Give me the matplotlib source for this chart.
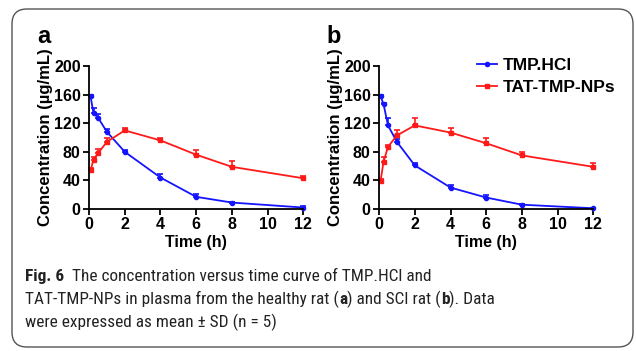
import numpy as np
import matplotlib
matplotlib.use('Agg')
from matplotlib import pyplot as plt
from matplotlib.patches import FancyBboxPatch
from matplotlib.lines import Line2D

# sampling times (h)
t = [0.083, 0.25, 0.5, 1, 2, 4, 6, 8, 12]

# panel a - healthy rat
a_hcl = [158, 134, 128, 108, 80, 44, 17, 9, 2]
a_hcl_sd = [2, 7, 5, 4, 3, 5, 4, 1, 2]
a_np = [54, 69, 78, 94, 110, 96, 76, 59, 43]
a_np_sd = [3, 4, 6, 6, 4, 3, 6, 8, 3]

# panel b - SCI rat
b_hcl = [158, 147, 117, 94, 61, 30, 16, 6, 1]
b_hcl_sd = [2, 2, 10, 4, 3, 4, 3, 1, 1]
b_np = [39, 66, 87, 103, 117, 107, 92, 75, 59]
b_np_sd = [3, 7, 3, 8, 11, 6, 8, 5, 5]

series_names = ['TMP.HCl', 'TAT-TMP-NPs']
xticks = [0, 2, 4, 6, 8, 10, 12]
yticks = [0, 40, 80, 120, 160, 200]

plt.rcParams['font.family'] = 'Liberation Sans'
plt.rcParams['font.weight'] = 'bold'

fig = plt.figure(figsize=(6.36, 3.51), dpi=100)

# rounded frame around the whole figure
frame = FancyBboxPatch((0.12, 0.04), 6.21, 3.38,
                       boxstyle='round,pad=0,rounding_size=0.15',
                       transform=fig.dpi_scale_trans, fill=False,
                       edgecolor='#555555', linewidth=1.0)
fig.patches.append(frame)

blue = '#1414ff'
red = '#ff1a1a'

panels = [
    ('a', 0.140, -0.24, a_hcl, a_hcl_sd, a_np, a_np_sd),
    ('b', 0.596, -0.245, b_hcl, b_hcl_sd, b_np, b_np_sd),
]

for letter, left, lx, hcl, hcl_sd, np_, np_sd in panels:
    ax = fig.add_axes([left, 0.4046, 0.337, 0.407])
    ax.errorbar(t, hcl, yerr=[np.zeros(len(hcl_sd)), hcl_sd], color=blue,
                marker='o', markersize=3, linewidth=1.3, capsize=2,
                elinewidth=1.2, capthick=1.2, clip_on=False)
    ax.errorbar(t, np_, yerr=[np.zeros(len(np_sd)), np_sd], color=red,
                marker='s', markersize=3, linewidth=1.3, capsize=2,
                elinewidth=1.2, capthick=1.2, clip_on=False)
    ax.set_xlim(0, 12)
    ax.set_ylim(0, 200)
    ax.set_xticks(xticks)
    ax.set_yticks(yticks)
    for s in ['top', 'right']:
        ax.spines[s].set_visible(False)
    for s in ['left', 'bottom']:
        ax.spines[s].set_linewidth(1.3)
    ax.tick_params(length=4, width=1.3, labelsize=11.5, pad=2)
    ax.set_xlabel('Time (h)', fontsize=11.5, fontweight='bold', labelpad=2)
    ax.set_ylabel('Concentration (\u00b5g/mL)', fontsize=12, fontweight='bold')
    ax.yaxis.set_label_coords(-0.17, 0.5)
    ax.text(lx, 1.162, letter, transform=ax.transAxes, fontsize=17,
            fontweight='bold', ha='left', va='baseline')
    if letter == 'b':
        handles = [Line2D([], [], color=blue, marker='o', markersize=3, linewidth=1.3),
                   Line2D([], [], color=red, marker='s', markersize=3, linewidth=1.3)]
        ax.legend(handles, series_names, loc='upper left', bbox_to_anchor=(0.455, 1.06),
                  frameon=False, prop={'weight': 'bold', 'size': 12.5},
                  handlelength=1.15, handletextpad=0.35, labelspacing=0.4,
                  borderpad=0, borderaxespad=0)

# caption with mixed bold / regular runs
cap_font = ['Roboto Condensed', 'Roboto']
cap_size = 12.4
lines = [
    [('Fig. 6', 'bold'), ('  The concentration versus time curve of TMP.HCl and', 'normal')],
    [('TAT-TMP-NPs in plasma from the healthy rat (', 'normal'), ('a', 'bold'),
     (') and SCI rat (', 'normal'), ('b', 'bold'), ('). Data', 'normal')],
    [('were expressed as mean \u00b1 SD (n = 5)', 'normal')],
]
baselines = [281, 304, 327]
renderer = fig.canvas.get_renderer()
for segs, yb in zip(lines, baselines):
    x_px = 25
    for txt, w in segs:
        tt = fig.text(x_px / 636, 1 - yb / 351, txt, family=cap_font,
                      fontsize=cap_size, weight=w, ha='left', va='baseline',
                      color='#222222')
        x_px = tt.get_window_extent(renderer).x1

fig.savefig('out.png', dpi=100)
